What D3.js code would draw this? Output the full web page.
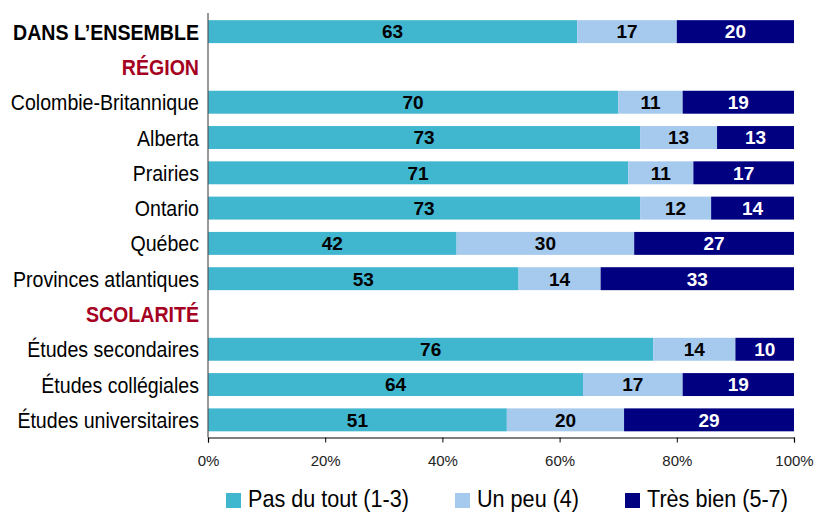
<!DOCTYPE html>
<html>
<head>
<meta charset="utf-8">
<script src="https://cdn.jsdelivr.net/npm/d3@7"></script>
<style>
  body { margin: 0; background: #fff; }
  svg { display: block; }
</style>
</head>
<body>
<svg id="chart" width="817" height="513"></svg>
<script>
// Rows of the chart, in order (headers have no values)
var categories = ['DANS L\u2019ENSEMBLE', 'RÉGION', 'Colombie-Britannique', 'Alberta', 'Prairies', 'Ontario',
  'Québec', 'Provinces atlantiques', 'SCOLARITÉ', 'Études secondaires', 'Études collégiales', 'Études universitaires'];
var rowType = ['total', 'header', 'item', 'item', 'item', 'item', 'item', 'item', 'header', 'item', 'item', 'item'];

var series = ['Pas du tout (1-3)', 'Un peu (4)', 'Très bien (5-7)'];
var pasDuTout = [63, null, 70, 73, 71, 73, 42, 53, null, 76, 64, 51];
var unPeu     = [17, null, 11, 13, 11, 12, 30, 14, null, 14, 17, 20];
var tresBien  = [20, null, 19, 13, 17, 14, 27, 33, null, 10, 19, 29];

var tickValues = [0, 20, 40, 60, 80, 100];

var colors = ['#41b6cf', '#a6c9ee', '#000080'];
var labelColors = ['#000', '#000', '#fff'];

// narrow look of the original font
var narrow = 0.87;

var svg = d3.select('#chart');

// scales
var x = d3.scaleLinear().domain([0, 100]).range([208, 794]);
var y = d3.scaleBand().domain(categories).range([14, 437.5]).paddingInner(0.35).paddingOuter(0.175);

// stack the data (rounded values, each bar spans 100%)
var rows = categories.map(function(c, i) {
  return {cat: c, type: rowType[i], vals: [pasDuTout[i], unPeu[i], tresBien[i]]};
});

var segs = [];
rows.forEach(function(r) {
  if (r.vals[0] == null) return;
  var total = d3.sum(r.vals);
  var acc = 0;
  r.vals.forEach(function(v, k) {
    segs.push({cat: r.cat, k: k, x0: acc / total * 100, x1: (acc + v) / total * 100, v: v});
    acc += v;
  });
});

svg.append('g').selectAll('rect')
  .data(segs).enter()
  .append('rect')
  .attr('x', function(d) { return x(d.x0); })
  .attr('y', function(d) { return y(d.cat); })
  .attr('width', function(d) { return x(d.x1) - x(d.x0); })
  .attr('height', y.bandwidth())
  .attr('fill', function(d) { return colors[d.k]; });

svg.append('g').selectAll('text')
  .data(segs).enter()
  .append('text')
  .attr('x', function(d) { return (x(d.x0) + x(d.x1)) / 2; })
  .attr('y', function(d) { return y(d.cat) + y.bandwidth() / 2; })
  .attr('dy', '0.36em')
  .attr('text-anchor', 'middle')
  .style('font-family', '"Liberation Sans", Arial, sans-serif')
  .style('font-weight', 'bold')
  .style('font-size', '19px')
  .attr('fill', function(d) { return labelColors[d.k]; })
  .text(function(d) { return d.v; });

// category labels
svg.append('g').selectAll('text')
  .data(rows).enter()
  .append('text')
  .attr('transform', function(d) {
    return 'translate(199,' + (y(d.cat) + y.bandwidth() / 2) + ') scale(' + narrow + ',1)';
  })
  .attr('dy', '0.36em')
  .attr('text-anchor', 'end')
  .style('font-family', '"Liberation Sans", Arial, sans-serif')
  .style('font-size', '22.5px')
  .style('font-weight', function(d) { return d.type == 'item' ? 'normal' : 'bold'; })
  .attr('fill', function(d) { return d.type == 'header' ? '#a50021' : '#000'; })
  .text(function(d) { return d.cat; });

// x axis
var xAxis = svg.append('g')
  .attr('transform', 'translate(0,437.5)')
  .call(d3.axisBottom(x).tickValues(tickValues).tickSize(5).tickPadding(13)
    .tickFormat(function(d) { return d + '%'; }));
xAxis.select('.domain').attr('stroke', '#000').attr('stroke-width', 1.2);
xAxis.selectAll('.tick line').attr('stroke', '#000');
xAxis.selectAll('.tick text')
  .style('font-family', '"Liberation Sans", Arial, sans-serif')
  .style('font-size', '15px')
  .attr('fill', '#222');

// y axis line
svg.append('line')
  .attr('x1', 208).attr('x2', 208)
  .attr('y1', 13).attr('y2', 437.5)
  .attr('stroke', '#555')
  .attr('stroke-width', 1.2);

// legend
var legendX = [226, 455, 625];
var legend = svg.append('g').selectAll('g')
  .data(series).enter()
  .append('g')
  .attr('transform', function(d, i) { return 'translate(' + legendX[i] + ',493)'; });
legend.append('rect')
  .attr('width', 15).attr('height', 15)
  .attr('fill', function(d, i) { return colors[i]; });
legend.append('text')
  .attr('transform', 'translate(22,14) scale(0.9,1)')
  .style('font-family', '"Liberation Sans", Arial, sans-serif')
  .style('font-size', '24px')
  .attr('fill', '#000')
  .text(function(d) { return d; });
</script>
</body>
</html>
